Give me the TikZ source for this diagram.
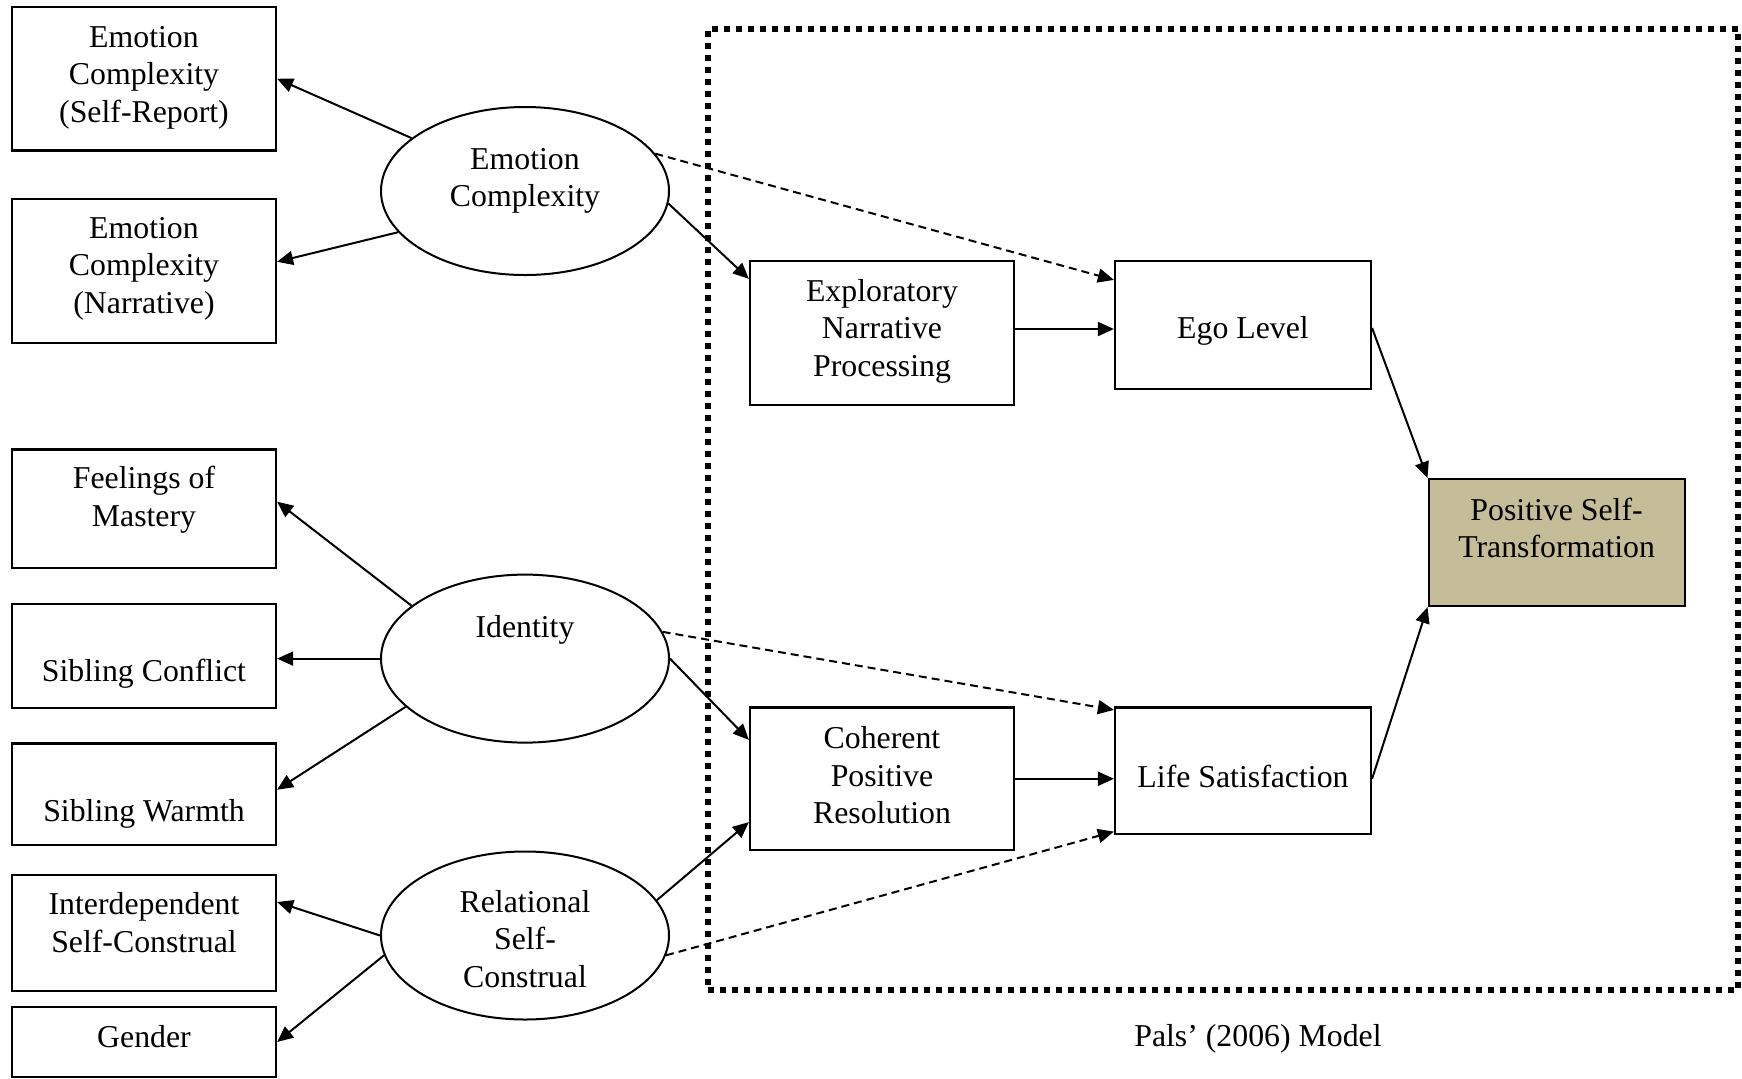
\documentclass[tikz,border=0pt]{standalone}
\usepackage{fontspec}
\setmainfont{Liberation Serif}
\usetikzlibrary{arrows.meta,shapes.geometric,calc}
\definecolor{tanfill}{RGB}{196,189,151}
\newcommand{\boxtxt}[2]{\raisebox{#1}[0pt][0pt]{\begin{tabular}{@{}c@{}}#2\end{tabular}}}
\begin{document}
\begin{tikzpicture}[x=0.5pt,y=-0.5pt,
  font=\fontsize{15.9pt}{18.75pt}\selectfont,
  bx/.style={draw, line width=1.1pt, rectangle, inner sep=0pt},
  lbox/.style={bx, minimum width=132pt},
  mbox/.style={bx, minimum width=132pt},
  rbox/.style={bx, minimum width=128pt},
  lat/.style={draw, line width=1pt, ellipse, inner sep=0pt, minimum width=144pt, minimum height=84pt},
  arr/.style={line width=1pt, -{Triangle[length=8pt,width=7pt]}},
  darr/.style={arr, dash pattern=on 4pt off 2.5pt}
]
\useasboundingbox (0,0) rectangle (1742,1078);

% dotted frame of Pals' model
\node[draw, line width=3pt, dash pattern=on 3pt off 3pt, rectangle, inner sep=0pt,
      minimum width=515pt, minimum height=480.75pt] (pals) at (1223,509.25) {};
\node (cap) at (1258,1038.5) {Pals’ (2006) Model};

% left indicator boxes
\node[lbox, minimum height=71.75pt] (ecsr) at (144,78.75) {\boxtxt{-3.65pt}{Emotion\\Complexity\\(Self-Report)}};
\node[lbox, minimum height=71.85pt] (ecn) at (144,270.8) {\boxtxt{-3.1pt}{Emotion\\Complexity\\(Narrative)}};
\node[lbox, minimum height=59.3pt] (fom) at (144,508.7) {\boxtxt{0pt}{Feelings of\\Mastery}};
\node[lbox, minimum height=51.9pt] (sc) at (144,655.9) {\boxtxt{-13.5pt}{Sibling Conflict}};
\node[lbox, minimum height=50.75pt] (sw) at (144,794.2) {\boxtxt{-14pt}{Sibling Warmth}};
\node[lbox, minimum height=58pt] (isc) at (144,933) {\boxtxt{-0.75pt}{Interdependent\\Self-Construal}};
\node[lbox, minimum height=35pt] (gender) at (144,1042) {\boxtxt{-3.25pt}{Gender}};

% latent variables
\node[lat] (ec) at (525,191) {\boxtxt{1pt}{Emotion\\Complexity}};
\node[lat] (id) at (525,658.6) {\boxtxt{9.8pt}{Identity}};
\node[lat] (rel) at (525,935.5) {\boxtxt{-7.75pt}{Relational\\Self-\\Construal}};

% Pals' model boxes
\node[mbox, minimum height=72pt] (enp) at (882,333) {\boxtxt{-3.5pt}{Exploratory\\Narrative\\Processing}};
\node[mbox, minimum height=71.25pt] (cpr) at (882,778.75) {\boxtxt{-4.3pt}{Coherent\\Positive\\Resolution}};
\node[rbox, minimum height=64pt] (ego) at (1243,325) {\boxtxt{-7.35pt}{Ego Level}};
\node[rbox, minimum height=63.25pt] (ls) at (1243,770.75) {\boxtxt{-8.8pt}{Life Satisfaction}};
\node[rbox, minimum height=63.5pt, fill=tanfill] (pst) at (1556.6,542.5) {\boxtxt{1.25pt}{Positive Self-\\Transformation}};

% measurement arrows
\draw[arr] (ec.155) -- (ecsr.east);
\draw[arr] (ec.198) -- ($(ecn.east)+(0,-9)$);
\draw[arr] (id.155) -- ($(fom.east)+(0,-7)$);
\draw[arr] (id.west) -- (id.west -| sc.east);
\draw[arr] (id.202) -- ($(sw.east)+(0,-4.5)$);
\draw[arr] (rel.west) -- ($(isc.east)+(0,-31)$);
\draw[arr] (rel.188) -- (gender.east);

% structural arrows
\draw[arr] (ec.355) -- ($(enp.north west)+(0,19)$);
\draw[darr] (ec.16.4) -- ($(ego.north west)+(0,20)$);
\draw[arr] ($(enp.east)+(0,-4)$) -- ($(ego.west)+(0,4)$);
\draw[arr] ($(ego.east)+(0,3)$) -- (pst.north west);
\draw[arr] (id.east) -- ($(cpr.north west)+(0,33.5)$);
\draw[darr] (id.11) -- ($(ls.north west)+(0,3.5)$);
\draw[arr] (cpr.east) -- (cpr.east -| ls.west);
\draw[arr] (rel.15.7) -- ($(cpr.south west)+(0,-29)$);
\draw[darr] (rel.352.5) -- ($(ls.south west)+(0,-3.5)$);
\draw[arr] ($(ls.east)+(0,8)$) -- (pst.south west);
\end{tikzpicture}
\end{document}
